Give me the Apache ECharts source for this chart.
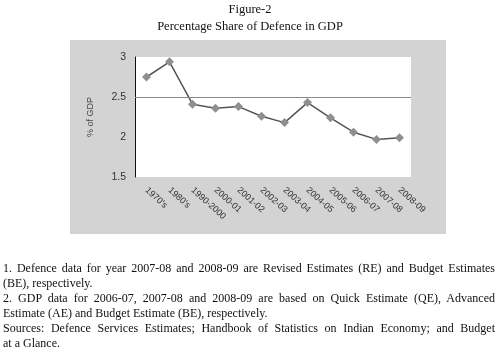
<!DOCTYPE html>
<html>
<head>
<meta charset="utf-8">
<script src="https://cdn.jsdelivr.net/npm/echarts@6/dist/echarts.min.js"></script>
<style>
  html, body { margin: 0; padding: 0; background: #fff; }
  #wrap { position: relative; width: 500px; height: 354px; }
  #main { position: absolute; left: 0; top: 0; width: 500px; height: 354px; }
  #notes { position: absolute; left: 3px; top: 261px; width: 492px;
           font-family: "Liberation Serif", "DejaVu Serif", serif; font-size: 12px;
           line-height: 15px; color: #111; }
  #notes div { white-space: nowrap; }
  #notes .j { text-align: justify; text-align-last: justify; white-space: normal; }
</style>
</head>
<body>
<div id="wrap">
  <div id="main"></div>
  <div id="notes"></div>
</div>
<script>
    'use strict';

    var categories = ["1970's", "1980's", '1990-2000', '2000-01', '2001-02', '2002-03',
                      '2003-04', '2004-05', '2005-06', '2006-07', '2007-08', '2008-09'];
    var shareOfGdp = [2.75, 2.94, 2.41, 2.36, 2.38, 2.26, 2.18, 2.43, 2.24, 2.06, 1.97, 1.99];
    var yTicks = [1.5, 2, 2.5, 3];
    var noteLines = [
        ['1. Defence data for year 2007-08 and 2008-09 are Revised Estimates (RE) and Budget Estimates', true],
        ['(BE), respectively.', false],
        ['2. GDP data for 2006-07, 2007-08 and 2008-09 are based on Quick Estimate (QE), Advanced', true],
        ['Estimate (AE) and Budget Estimate (BE), respectively.', false],
        ['Sources: Defence Services Estimates; Handbook of Statistics on Indian Economy; and Budget', true],
        ['at a Glance.', false]
    ];

    // footnotes (justified like the printed page)
    var notes = document.getElementById('notes');
    noteLines.forEach(function(l) {
        var d = document.createElement('div');
        d.textContent = l[0];
        if (l[1]) d.className = 'j';
        notes.appendChild(d);
    });

    var myChart = echarts.init(document.getElementById('main'));
    var sans = '"Liberation Sans", Arial, sans-serif';
    var serif = '"Liberation Serif", "DejaVu Serif", serif';

    var option = {
        animation: false,
        graphic: [
            { type: 'rect', z: -10, shape: { x: 70, y: 40, width: 376, height: 194 },
              style: { fill: '#d3d3d3' } },
            { type: 'text', left: 'center', top: 3,
              style: { text: 'Figure-2', font: '12.5px ' + serif, fill: '#111' } },
            { type: 'text', left: 'center', top: 20,
              style: { text: 'Percentage Share of Defence in GDP', font: '12.5px ' + serif, fill: '#111' } }
        ],
        grid: {
            left: 135, right: 89, top: 57, bottom: 177,
            show: true, backgroundColor: '#fff', borderWidth: 0
        },
        xAxis: {
            type: 'category',
            data: categories,
            boundaryGap: true,
            axisLine: { show: false },
            axisTick: { show: false },
            axisLabel: {
                rotate: -42, margin: 12, interval: 0,
                fontFamily: sans, fontSize: 9, color: '#333'
            }
        },
        yAxis: {
            type: 'value',
            min: yTicks[0], max: yTicks[yTicks.length - 1], interval: 0.5,
            name: '% of GDP', nameLocation: 'middle', nameRotate: 90, nameGap: 40,
            nameTextStyle: { fontFamily: sans, fontSize: 9, color: '#444' },
            axisLine: { show: true, lineStyle: { color: '#111', width: 1 } },
            axisTick: { show: false },
            splitLine: { show: false },
            axisLabel: { fontFamily: sans, fontSize: 10.5, color: '#333', margin: 9 }
        },
        series: [{
            name: 'share',
            type: 'line',
            data: shareOfGdp,
            symbol: 'diamond',
            symbolSize: 9,
            itemStyle: { color: '#8f8f8f' },
            lineStyle: { color: '#555', width: 1.5 },
            markLine: {
                silent: true, symbol: 'none', label: { show: false },
                lineStyle: { color: '#888', type: 'solid', width: 1.2 },
                data: [{ yAxis: 2.5 }]
            }
        }]
    };
    myChart.setOption(option);
</script>
</body>
</html>
